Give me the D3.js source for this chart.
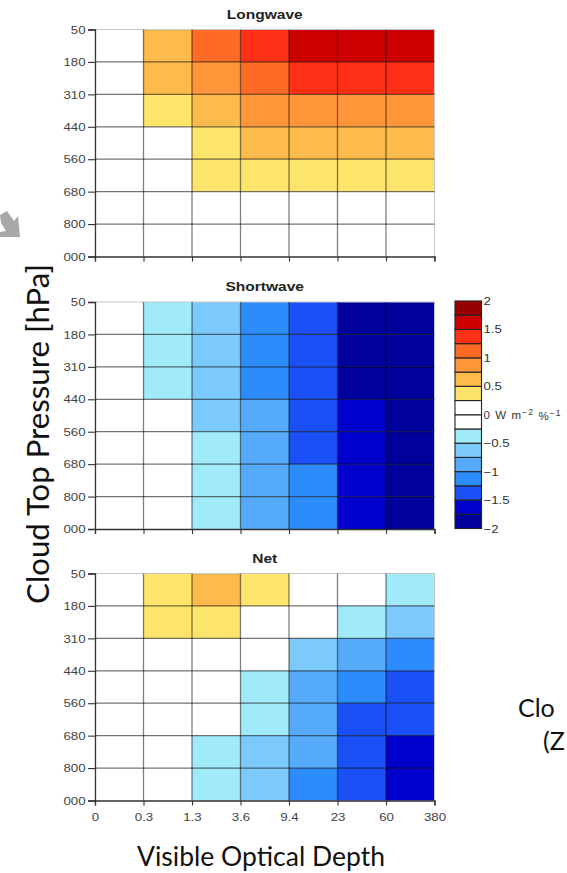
<!DOCTYPE html>
<html>
<head>
<meta charset="utf-8">
<script src="https://cdn.jsdelivr.net/npm/d3@7"></script>
<style>
  body { margin: 0; background: #fff; }
  svg { display: block; }
</style>
</head>
<body>
<div id="chart"></div>
<script>
// tick labels (bin edges)
const xTicks = ["0", "0.3", "1.3", "3.6", "9.4", "23", "60", "380"];
const yTicks = ["50", "180", "310", "440", "560", "680", "800", "1000"];
const panelTitles = ["Longwave", "Shortwave", "Net"];

// W m-2 %-1, rows top (50-180 hPa) to bottom, cols left (0-0.3) to right
const lwValues = [
  [0.1, 0.6, 1.1, 1.4, 1.6, 1.65, 1.65],
  [0.1, 0.6, 0.9, 1.1, 1.4, 1.4, 1.4],
  [0.05, 0.4, 0.6, 0.85, 0.9, 0.9, 0.9],
  [0.05, 0.1, 0.4, 0.6, 0.65, 0.65, 0.65],
  [0.0, 0.1, 0.35, 0.4, 0.4, 0.4, 0.4],
  [0.0, 0.05, 0.15, 0.2, 0.2, 0.2, 0.2],
  [0.0, 0.0, 0.1, 0.1, 0.15, 0.15, 0.15]
];
const swValues = [
  [-0.05, -0.4, -0.6, -1.1, -1.4, -1.85, -1.9],
  [-0.05, -0.4, -0.65, -1.1, -1.4, -1.85, -1.9],
  [-0.05, -0.4, -0.65, -1.1, -1.4, -1.85, -1.9],
  [-0.05, -0.2, -0.6, -0.85, -1.35, -1.6, -1.8],
  [-0.05, -0.2, -0.4, -0.85, -1.35, -1.6, -1.8],
  [-0.05, -0.2, -0.4, -0.85, -1.1, -1.6, -1.8],
  [-0.05, -0.2, -0.4, -0.85, -1.1, -1.65, -1.85]
];
const netValues = [
  [0.05, 0.4, 0.6, 0.3, 0.1, -0.15, -0.4],
  [0.05, 0.35, 0.3, 0.2, -0.1, -0.4, -0.6],
  [0.0, 0.1, -0.05, -0.2, -0.6, -0.85, -1.1],
  [0.0, -0.1, -0.15, -0.4, -0.85, -1.1, -1.3],
  [0.0, -0.1, -0.2, -0.4, -0.85, -1.3, -1.4],
  [0.0, -0.1, -0.3, -0.6, -0.85, -1.35, -1.6],
  [0.0, -0.1, -0.35, -0.6, -1.05, -1.4, -1.6]
];

// colour levels
const levelEdges = [-2, -1.75, -1.5, -1.25, -1, -0.75, -0.5, -0.25, 0, 0.25, 0.5, 0.75, 1, 1.25, 1.5, 1.75, 2];
const levelColors = ["#00009c", "#0000cc", "#1a50f5", "#2d8cfb", "#55aaf9", "#7ccafc", "#a0eafa", "#ffffff",
                     "#ffffff", "#fde46a", "#fdbb4b", "#ff963a", "#ff6a24", "#ff3015", "#cc0000", "#990000"];
const cbarLabels = [2, 1.5, 1, 0.5, 0, -0.5, -1, -1.5, -2];

const W = 567, H = 873;
const plotLeft = 95, plotRight = 434.5, plotH = 227;
const panelTops = [29.5, 302, 573.5];
const stretchX = 1.15; // the pasted figure is a little wider than tall

const svg = d3.select("#chart")
  .append("svg")
  .attr("width", W)
  .attr("height", H);

const color = d3.scaleThreshold()
  .domain(levelEdges.slice(1, -1))
  .range(levelColors);

const xScale = d3.scalePoint().domain(xTicks).range([plotLeft, plotRight]);

// widen glyphs horizontally to match the stretched figure
function stretch(sel, k) {
  sel.each(function () {
    const len = this.getComputedTextLength();
    d3.select(this)
      .attr("textLength", len * k)
      .attr("lengthAdjust", "spacingAndGlyphs");
  });
}

// chart image is cropped on the left
svg.append("clipPath").attr("id", "imgclip")
  .append("rect").attr("x", 63).attr("y", 0).attr("width", W).attr("height", H);

const allValues = [lwValues, swValues, netValues];

allValues.forEach((vals, p) => {
  const top = panelTops[p];
  const yScale = d3.scalePoint().domain(yTicks).range([top, top + plotH]);
  const g = svg.append("g");

  // cells
  const cells = [];
  vals.forEach((row, i) => row.forEach((v, j) => cells.push({ i, j, v })));
  g.selectAll("rect.cell")
    .data(cells)
    .join("rect")
    .attr("class", "cell")
    .attr("x", d => xScale(xTicks[d.j]))
    .attr("y", d => yScale(yTicks[d.i]))
    .attr("width", d => xScale(xTicks[d.j + 1]) - xScale(xTicks[d.j]))
    .attr("height", d => yScale(yTicks[d.i + 1]) - yScale(yTicks[d.i]))
    .attr("fill", d => color(d.v));

  // outer light frame (top/right)
  g.append("path")
    .attr("d", `M${plotLeft},${top}H${plotRight}V${top + plotH}`)
    .attr("fill", "none")
    .attr("stroke", "#c8c8c8")
    .attr("stroke-width", 1);

  // grid lines
  g.selectAll("line.hgrid")
    .data(yTicks.slice(1, -1))
    .join("line")
    .attr("x1", plotLeft).attr("x2", plotRight)
    .attr("y1", d => yScale(d)).attr("y2", d => yScale(d))
    .attr("stroke", "rgba(0,0,0,0.55)")
    .attr("stroke-width", 1.3);
  g.selectAll("line.vgrid")
    .data(xTicks.slice(1, -1))
    .join("line")
    .attr("x1", d => xScale(d)).attr("x2", d => xScale(d))
    .attr("y1", top).attr("y2", top + plotH)
    .attr("stroke", "rgba(0,0,0,0.5)")
    .attr("stroke-width", 1.3);

  // y axis (labels cut by the image crop)
  const ya = g.append("g")
    .attr("clip-path", "url(#imgclip)")
    .append("g")
    .attr("transform", `translate(${plotLeft},0)`)
    .call(d3.axisLeft(yScale).tickSizeOuter(0).tickSize(7).tickPadding(2.5));
  // x axis
  const xa = g.append("g")
    .attr("transform", `translate(0,${top + plotH})`)
    .call(d3.axisBottom(xScale).tickSizeOuter(0).tickSize(5).tickPadding(7.5)
      .tickFormat(p === 2 ? d => d : ""));

  [ya, xa].forEach(a => {
    a.select(".domain").attr("stroke", "#333").attr("stroke-width", 1.3);
    a.selectAll(".tick line").attr("stroke", "#333").attr("stroke-width", 1.1);
    a.selectAll(".tick text")
      .attr("fill", "#444")
      .style("font-family", "'Liberation Sans', Arial, sans-serif")
      .style("font-size", "11.5px")
      .call(stretch, stretchX);
  });

  // panel title
  svg.append("text")
    .attr("x", (plotLeft + plotRight) / 2)
    .attr("y", top - 11)
    .attr("text-anchor", "middle")
    .attr("fill", "#222")
    .style("font-family", "'Liberation Sans', Arial, sans-serif")
    .style("font-weight", "bold")
    .style("font-size", "13.5px")
    .text(panelTitles[p])
    .call(stretch, stretchX);
});

// colour bar
const cbX = 455, cbW = 26.5;
const cbScale = d3.scaleLinear().domain([-2, 2]).range([panelTops[1] + plotH - 0.5, panelTops[1] - 1]);
const cb = svg.append("g");
cb.selectAll("rect")
  .data(levelColors)
  .join("rect")
  .attr("x", cbX)
  .attr("y", (d, i) => cbScale(levelEdges[i + 1]))
  .attr("width", cbW)
  .attr("height", (d, i) => cbScale(levelEdges[i]) - cbScale(levelEdges[i + 1]))
  .attr("fill", d => d)
  .attr("stroke", "#222")
  .attr("stroke-width", 1.1);

const cbText = cb.selectAll("text")
  .data(cbarLabels)
  .join("text")
  .attr("x", cbX + cbW + 2)
  .attr("y", d => cbScale(d))
  .attr("dy", "0.35em")
  .attr("fill", "#333")
  .style("font-family", "'Liberation Sans', Arial, sans-serif")
  .style("font-size", "11.5px");
cbText.each(function (d) {
  const t = d3.select(this);
  if (d === 0) {
    t.append("tspan").text("0 W m");
    t.append("tspan").attr("dy", "-0.45em").style("font-size", "8.5px").text("\u22122");
    t.append("tspan").attr("dy", "0.45em").text(" %");
    t.append("tspan").attr("dy", "-0.45em").style("font-size", "8.5px").text("\u22121");
  } else {
    t.text(d < 0 ? "\u2212" + Math.abs(d) : d);
  }
});
cbText.filter(d => d !== 0).call(stretch, stretchX);
cbText.filter(d => d === 0).attr("letter-spacing", 1.1);

// slide-level labels
function fitText(sel, target) {
  const w = sel.node().getComputedTextLength();
  const fs = parseFloat(sel.style("font-size"));
  sel.style("font-size", (fs * target / w) + "px");
}

const xLabel = svg.append("text")
  .attr("x", 261)
  .attr("y", 866)
  .attr("text-anchor", "middle")
  .attr("fill", "#111")
  .style("font-family", "Lato, 'Open Sans', sans-serif")
  .style("font-size", "25px")
  .text("Visible Optical Depth");
fitText(xLabel, 248);

const yLabel = svg.append("text")
  .attr("transform", "translate(49,434) rotate(-90)")
  .attr("text-anchor", "middle")
  .attr("fill", "#111")
  .style("font-family", "Lato, 'Open Sans', sans-serif")
  .style("font-size", "25px")
  .text("Cloud Top Pressure [hPa]");
fitText(yLabel, 340);

svg.append("text")
  .attr("x", 518).attr("y", 717)
  .attr("fill", "#111")
  .style("font-family", "Lato, 'Open Sans', sans-serif")
  .style("font-size", "25px")
  .text("Clo");
svg.append("text")
  .attr("x", 543).attr("y", 750)
  .attr("fill", "#111")
  .style("font-family", "Lato, 'Open Sans', sans-serif")
  .style("font-size", "25px")
  .text("(Z");

// grey arrow, cut at the left edge
svg.append("path")
  .attr("d", "M0,215 L7,211 L14,221 L18,216 L20,237 L0,237 L0,232 L6,231 L1,223 Z")
  .attr("fill", "#a8a8a8");
</script>
</body>
</html>
